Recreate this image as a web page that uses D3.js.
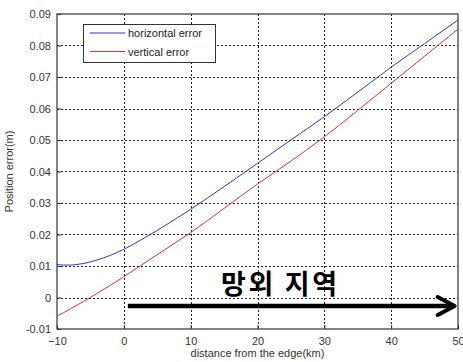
<!DOCTYPE html>
<html>
<head>
<meta charset="utf-8">
<script src="https://cdn.jsdelivr.net/npm/d3@7"></script>
<style>
  html, body { margin: 0; padding: 0; background: #fff; }
  svg { display: block; }
  .tick text { font-family: "Liberation Sans", Arial, sans-serif; font-size: 11px; fill: #333; }
</style>
</head>
<body>
<svg id="chart" width="463" height="362"></svg>
<script>
// distance from the edge (km)
const distance = [-10, -9, -8, -7, -6, -5, -4, -3, -2, -1, 0, 2.5, 5, 7.5, 10, 15, 20, 25, 30, 35, 40, 45, 50];
// horizontal position error (m)
const horizontalError = [0.0105, 0.0103, 0.0103, 0.0105, 0.0108, 0.0113, 0.0119, 0.0126, 0.0134, 0.0143, 0.0153, 0.0182, 0.0213, 0.0246, 0.0280, 0.0352, 0.0426, 0.0500, 0.0574, 0.0652, 0.0731, 0.0806, 0.0881];
// vertical position error (m)
const verticalError = [-0.0059, -0.0048, -0.0036, -0.0024, -0.0012, 0.0000, 0.0013, 0.0026, 0.0039, 0.0052, 0.0066, 0.0101, 0.0136, 0.0171, 0.0206, 0.0283, 0.0360, 0.0433, 0.0510, 0.0594, 0.0680, 0.0766, 0.0852];
const xTicks = [-10, 0, 10, 20, 30, 40, 50];
const yTicks = [-0.01, 0, 0.01, 0.02, 0.03, 0.04, 0.05, 0.06, 0.07, 0.08, 0.09];
const yTickLabels = ["-0.01", "0", "0.01", "0.02", "0.03", "0.04", "0.05", "0.06", "0.07", "0.08", "0.09"];
const seriesNames = ["horizontal error", "vertical error"];
const seriesColors = ["#3333cc", "#e03030"];
const regionLabel = "망외 지역";
const arrowRange = [0.6, 49.5];
const arrowLevel = -0.0027;

const svg = d3.select("#chart");
const m = { left: 57, right: 5, top: 14, bottom: 33 };
const W = 463, H = 362;
const x = d3.scaleLinear().domain([-10, 50]).range([m.left, W - m.right]);
const y = d3.scaleLinear().domain([-0.01, 0.09]).range([H - m.bottom, m.top]);

// dotted grid
const grid = svg.append("g").attr("stroke", "#222").attr("stroke-width", 1).attr("stroke-dasharray", "2,2");
grid.selectAll("line.v").data(xTicks.slice(1, -1)).join("line")
  .attr("x1", d => Math.round(x(d)) + 0.5).attr("x2", d => Math.round(x(d)) + 0.5)
  .attr("y1", y(0.09)).attr("y2", y(-0.01));
grid.selectAll("line.h").data(yTicks.slice(1, -1)).join("line")
  .attr("y1", d => Math.round(y(d)) + 0.5).attr("y2", d => Math.round(y(d)) + 0.5)
  .attr("x1", x(-10)).attr("x2", x(50));

// axes
const xAxis = d3.axisBottom(x).tickValues(xTicks).tickSize(-4).tickPadding(8).tickFormat(d3.format("d"));
const yAxis = d3.axisLeft(y).tickValues(yTicks).tickSize(-4).tickPadding(6).tickFormat((d, i) => yTickLabels[i]);
const gx = svg.append("g").attr("transform", `translate(0,${y(-0.01)})`).call(xAxis);
const gy = svg.append("g").attr("transform", `translate(${x(-10)},0)`).call(yAxis);
[gx, gy].forEach(g => {
  g.select(".domain").remove();
  g.selectAll(".tick line").attr("stroke", "#333");
});

// frame
svg.append("rect")
  .attr("x", x(-10)).attr("y", y(0.09))
  .attr("width", x(50) - x(-10)).attr("height", y(-0.01) - y(0.09))
  .attr("fill", "none").attr("stroke", "#333").attr("stroke-width", 1.2);

// series lines
const line = d3.line().x((d, i) => x(distance[i])).y(d => y(d)).curve(d3.curveMonotoneX);
[horizontalError, verticalError].forEach((vals, k) => {
  svg.append("path").datum(vals)
    .attr("fill", "none").attr("stroke", seriesColors[k]).attr("stroke-width", 1)
    .attr("d", line);
});

// region arrow
const ay = y(arrowLevel);
svg.append("line")
  .attr("x1", x(arrowRange[0])).attr("x2", x(arrowRange[1]) - 2)
  .attr("y1", ay).attr("y2", ay)
  .attr("stroke", "#000").attr("stroke-width", 4.5);
svg.append("path")
  .attr("d", `M${x(arrowRange[1]) - 17},${ay - 9} L${x(arrowRange[1])},${ay} L${x(arrowRange[1]) - 17},${ay + 9}`)
  .attr("fill", "none").attr("stroke", "#000").attr("stroke-width", 4).attr("stroke-linecap", "round").attr("stroke-linejoin", "round");
svg.append("text")
  .attr("x", 221).attr("y", 294)
  .attr("font-family", "'Noto Sans CJK KR', sans-serif").attr("font-weight", "bold").attr("font-size", 27)
  .attr("fill", "#000").attr("textLength", 116).attr("lengthAdjust", "spacing")
  .text(regionLabel);

// legend
const lg = svg.append("g");
lg.append("rect").attr("x", 83.5).attr("y", 24.5).attr("width", 132).attr("height", 38)
  .attr("fill", "#fff").attr("stroke", "#333").attr("stroke-width", 1);
seriesNames.forEach((name, k) => {
  const ly = 33 + k * 18.5;
  lg.append("line").attr("x1", 90).attr("x2", 125).attr("y1", ly).attr("y2", ly)
    .attr("stroke", seriesColors[k]).attr("stroke-width", 1);
  lg.append("text").attr("x", 128).attr("y", ly + 4)
    .attr("font-family", "'Liberation Sans', Arial, sans-serif").attr("font-size", 11).attr("fill", "#222")
    .text(name);
});

// axis titles
svg.append("text")
  .attr("x", (x(-10) + x(50)) / 2).attr("y", 357).attr("text-anchor", "middle")
  .attr("font-family", "'Liberation Sans', Arial, sans-serif").attr("font-size", 11).attr("fill", "#333")
  .text("distance from the edge(km)");
svg.append("text")
  .attr("transform", `translate(13,${(y(0.09) + y(-0.01)) / 2}) rotate(-90)`).attr("text-anchor", "middle")
  .attr("font-family", "'Liberation Sans', Arial, sans-serif").attr("font-size", 11).attr("fill", "#333")
  .text("Position error(m)");
</script>
</body>
</html>
